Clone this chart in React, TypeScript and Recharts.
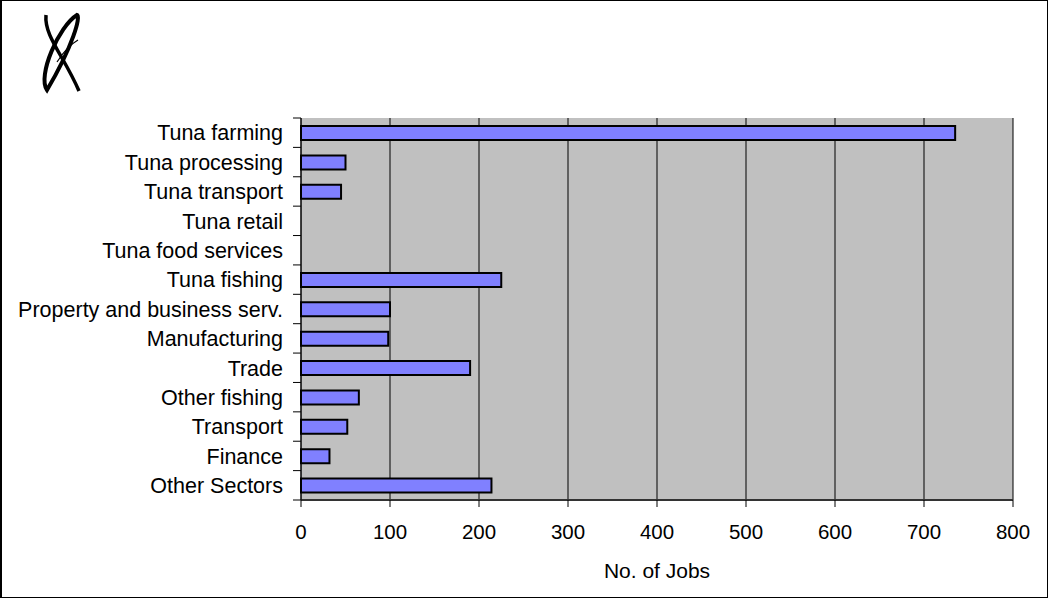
import React from 'react';
import { BarChart, Bar, XAxis, YAxis, CartesianGrid, Label } from 'recharts';

const sectors = [
  'Tuna farming',
  'Tuna processing',
  'Tuna transport',
  'Tuna retail',
  'Tuna food services',
  'Tuna fishing',
  'Property and business serv.',
  'Manufacturing',
  'Trade',
  'Other fishing',
  'Transport',
  'Finance',
  'Other Sectors',
];
const jobs = [735, 50, 45, 0, 0, 225, 100, 98, 190, 65, 52, 32, 214];
const xTicks = [0, 100, 200, 300, 400, 500, 600, 700, 800];

const data = sectors.map((sector, i) => ({ sector, jobs: jobs[i] }));

const FONT = '"Liberation Sans", Arial, sans-serif';
const W = 1048;
const H = 598;
const margin = { top: 118, right: 35, bottom: 20, left: 0 };
const xAxisHeight = 78;
const band = (H - margin.top - margin.bottom - xAxisHeight) / sectors.length;

const SectorTick = (props: any) => {
  const { x, y, payload, index } = props;
  return (
    <g>
      <line x1={x - 8} x2={x} y1={y - band / 2} y2={y - band / 2} stroke="#000" />
      {index === sectors.length - 1 && (
        <line x1={x - 8} x2={x} y1={y + band / 2} y2={y + band / 2} stroke="#000" />
      )}
      <text x={x - 18} y={y} dy="0.36em" textAnchor="end" fontSize={21.5} fontFamily={FONT} fill="#000">
        {payload.value}
      </text>
    </g>
  );
};

// swirl logo in the top-left corner
const Logo = () => (
  <svg width={60} height={100} style={{ position: 'absolute', left: 27, top: 5 }}>
    <path d="M18 84 C 8 70, 30 20, 48 9 C 52 10, 44 40, 18 84 Z" fill="none" stroke="#000" strokeWidth={4} />
    <path d="M17 9 C 15 30, 35 50, 50 85" fill="none" stroke="#000" strokeWidth={3.5} />
    <path d="M28 56 C 35 45, 42 38, 49 34" fill="none" stroke="#000" strokeWidth={1.2} />
  </svg>
);

export default function App() {
  return (
    <div
      style={{
        position: 'absolute',
        left: 0,
        top: 0,
        width: W,
        height: H,
        boxSizing: 'border-box',
        border: '1px solid #000',
        borderLeftWidth: 2,
        background: '#fff',
        fontFamily: FONT,
      }}
    >
      <Logo />
      <div style={{ position: 'absolute', left: -2, top: -1 }}>
        <BarChart
          width={W}
          height={H}
          data={data}
          layout="vertical"
          margin={margin}
          barSize={14}
        >
          <CartesianGrid
            horizontal={false}
            stroke="#000"
            fill="#c0c0c0"
            fillOpacity={1}
          />
          <XAxis
            type="number"
            domain={[0, 800]}
            ticks={xTicks}
            interval={0}
            height={xAxisHeight}
            tickSize={7}
            tickMargin={17}
            stroke="#333"
            axisLine={{ stroke: '#333', strokeWidth: 2 }}
            tickLine={{ stroke: '#000' }}
            tick={{ fontSize: 20.5, fontFamily: FONT, fill: '#000' }}
          >
            <Label value="No. of Jobs" position="insideBottom" offset={0} fontSize={21} fontFamily={FONT} fill="#000" />
          </XAxis>
          <XAxis
            xAxisId="top"
            orientation="top"
            type="number"
            domain={[0, 800]}
            height={0}
            tick={false}
            tickLine={false}
            axisLine={{ stroke: '#808080', strokeWidth: 2 }}
          />
          <YAxis
            type="category"
            dataKey="sector"
            width={301}
            interval={0}
            tickSize={0}
            tickMargin={0}
            tickLine={false}
            axisLine={{ stroke: '#000' }}
            tick={SectorTick}
          />
          <YAxis
            yAxisId="right"
            orientation="right"
            type="category"
            dataKey="sector"
            width={0}
            tick={false}
            tickLine={false}
            axisLine={{ stroke: '#808080', strokeWidth: 2 }}
          />
          <Bar dataKey="jobs" fill="#8080ff" stroke="#000" strokeWidth={2} isAnimationActive={false} />
        </BarChart>
      </div>
    </div>
  );
}
